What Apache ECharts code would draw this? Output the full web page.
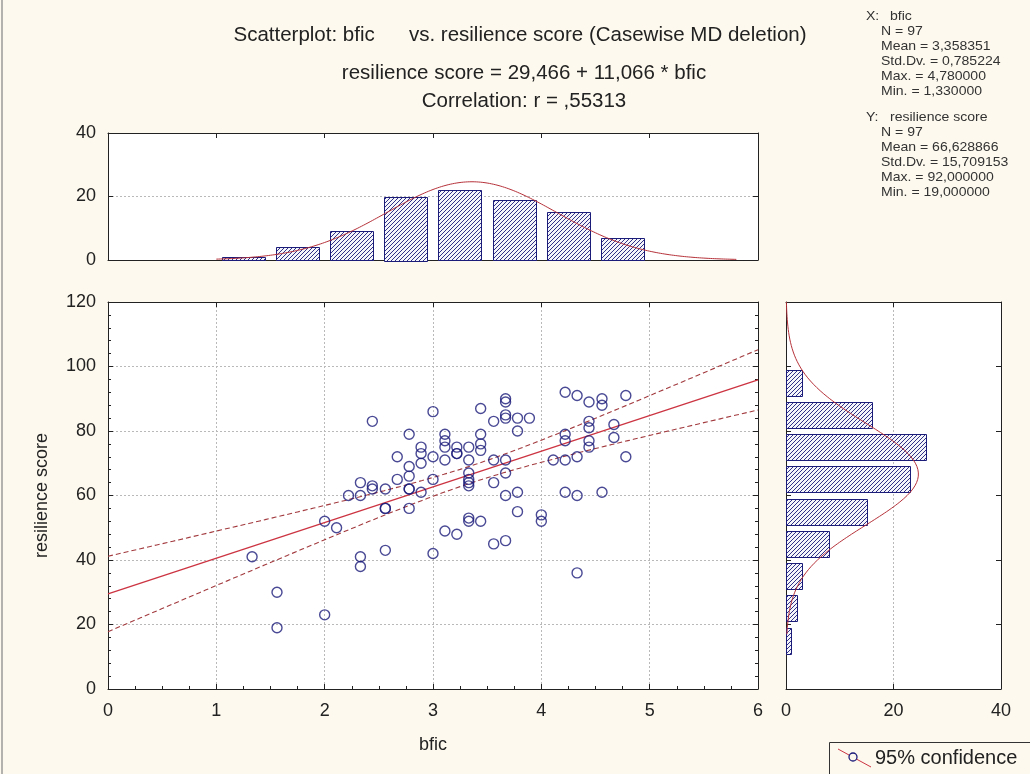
<!DOCTYPE html>
<html>
<head>
<meta charset="utf-8">
<script src="https://cdn.jsdelivr.net/npm/echarts@6/dist/echarts.min.js"></script>
<style>
  html, body { margin: 0; padding: 0; background: #fdf9ee; }
  #chart { width: 1030px; height: 774px; }
</style>
</head>
<body>
<div id="chart"></div>
<script>
// Observations (bfic, resilience score), grouped by bfic level
const bfic = [
  1.33,
  1.56, 1.56,
  2.00, 2.00,
  2.11,
  2.22,
  2.33, 2.33, 2.33, 2.33,
  2.44, 2.44, 2.44,
  2.56, 2.56, 2.56, 2.56,
  2.67, 2.67,
  2.78, 2.78, 2.78, 2.78, 2.78, 2.78,
  2.89, 2.89, 2.89, 2.89,
  3.00, 3.00, 3.00, 3.00,
  3.11, 3.11, 3.11, 3.11, 3.11,
  3.22, 3.22, 3.22, 3.22,
  3.33, 3.33, 3.33, 3.33, 3.33, 3.33, 3.33, 3.33,
  3.44, 3.44, 3.44, 3.44, 3.44,
  3.56, 3.56, 3.56, 3.56,
  3.67, 3.67, 3.67, 3.67, 3.67, 3.67, 3.67, 3.67,
  3.78, 3.78, 3.78, 3.78,
  3.89,
  4.00, 4.00,
  4.11,
  4.22, 4.22, 4.22, 4.22, 4.22,
  4.33, 4.33, 4.33, 4.33,
  4.44, 4.44, 4.44, 4.44, 4.44,
  4.56, 4.56, 4.56,
  4.67, 4.67,
  4.78, 4.78
];
const resilience = [
  41,
  30, 19,
  23, 52,
  50,
  60,
  60, 64, 41, 38,
  83, 63, 62,
  62, 56, 43, 56,
  72, 65,
  79, 69, 66, 62, 56, 62,
  75, 73, 70, 61,
  86, 72, 65, 42,
  79, 77, 75, 71, 49,
  75, 73, 48, 73,
  75, 71, 67, 65, 64, 63, 53, 52,
  87, 79, 76, 74, 52,
  83, 71, 64, 45,
  90, 89, 85, 84, 71, 67, 60, 46,
  84, 80, 61, 55,
  84,
  54, 52,
  71,
  92, 79, 77, 71, 61,
  91, 72, 60, 36,
  89, 83, 81, 77, 75,
  90, 88, 61,
  82, 78,
  91, 72
];

// Frequency tables
const bficBinStarts = [1.0, 1.5, 2.0, 2.5, 3.0, 3.5, 4.0, 4.5];
const bficBinCounts = [1, 4, 9, 20, 22, 19, 15, 7];
const bficBinWidth = 0.5;
const resBinStarts = [10, 20, 30, 40, 50, 60, 70, 80, 90];
const resBinCounts = [1, 2, 3, 8, 15, 23, 26, 16, 3];
const resBinWidth = 10;

// Fitted model and descriptive statistics
const intercept = 29.466;
const slope = 11.066;
const corrR = 0.55313;
const nObs = 97;
const bficMean = 3.358351, bficSd = 0.785224;
const resMean = 66.628866, resSd = 15.709153;
const tCrit = 1.9853;

// Text
const titleLines = [
  'Scatterplot: bfic      vs. resilience score (Casewise MD deletion)',
  'resilience score = 29,466 + 11,066 * bfic',
  'Correlation: r = ,55313'
];
const xStatsHead = ['X:', 'bfic'];
const xStatsLines = ['N = 97', 'Mean = 3,358351', 'Std.Dv. = 0,785224', 'Max. = 4,780000', 'Min. = 1,330000'];
const yStatsHead = ['Y:', 'resilience score'];
const yStatsLines = ['N = 97', 'Mean = 66,628866', 'Std.Dv. = 15,709153', 'Max. = 92,000000', 'Min. = 19,000000'];
const legendText = '95% confidence';

const FONT = "'Liberation Sans', Arial, sans-serif";
const NAVY = '#1b1b7a';
const FIT_RED = '#cc3442';
const BAND_RED = '#a23a3e';
const CURVE_RED = '#b5323a';
const AXIS_C = '#222';
const GRID_C = '#b9b9b9';
const BG = '#fdf9ee';

// Hatched fill for histogram bars
const hatch = document.createElement('canvas');
hatch.width = 4; hatch.height = 4;
(function () {
  const g = hatch.getContext('2d');
  g.fillStyle = '#f4f4fb';
  g.fillRect(0, 0, 4, 4);
  g.strokeStyle = NAVY;
  g.lineWidth = 0.9;
  g.beginPath();
  g.moveTo(-1, 5); g.lineTo(5, -1);
  g.moveTo(-1, 1); g.lineTo(1, -1);
  g.moveTo(3, 5); g.lineTo(5, 3);
  g.stroke();
})();
const hatchFill = { image: hatch, repeat: 'repeat' };

// Derived series
const scatterData = bfic.map((x, i) => [x, resilience[i]]);
const fitLine = [[0, intercept], [6, intercept + slope * 6]];

const residSd = resSd * Math.sqrt((1 - corrR * corrR) * (nObs - 1) / (nObs - 2));
const sxx = (nObs - 1) * bficSd * bficSd;
const upperBand = [], lowerBand = [];
for (let i = 0; i <= 120; i++) {
  const x = i * 0.05;
  const yhat = intercept + slope * x;
  const half = tCrit * residSd * Math.sqrt(1 / nObs + (x - bficMean) ** 2 / sxx);
  upperBand.push([x, yhat + half]);
  lowerBand.push([x, yhat - half]);
}

function normalCount(v, mean, sd, binW) {
  return nObs * binW * Math.exp(-0.5 * ((v - mean) / sd) ** 2) / (sd * Math.sqrt(2 * Math.PI));
}
const bficCurve = [];
for (let x = 1.0; x <= 5.8001; x += 0.02) bficCurve.push([x, normalCount(x, bficMean, bficSd, bficBinWidth)]);
const resCurve = [];
for (let y = 17; y <= 120.001; y += 0.5) resCurve.push([normalCount(y, resMean, resSd, resBinWidth), y]);

const bficBars = bficBinStarts.map((s, i) => [s, s + bficBinWidth, bficBinCounts[i]]);
const resBars = resBinStarts.map((s, i) => [s, s + resBinWidth, resBinCounts[i]]);

function barStyle() {
  return { fill: hatchFill, stroke: NAVY, lineWidth: 1 };
}

const tickLabel = { fontFamily: FONT, fontSize: 18, color: '#222' };

function frameAxis(extra) {
  return Object.assign({
    type: 'value',
    axisLine: { show: true, onZero: false, lineStyle: { color: AXIS_C, width: 1 } },
    axisTick: { show: true, inside: true, length: 5, lineStyle: { color: AXIS_C } },
    axisLabel: { show: false },
    splitLine: { show: false }
  }, extra);
}

function text(x, y, str, size, opts) {
  return Object.assign({
    type: 'text', x: x, y: y,
    style: Object.assign({ text: str, font: size + 'px ' + FONT, fill: '#222', verticalAlign: 'middle' }, (opts && opts.style) || {})
  }, (opts && opts.el) || {});
}

const graphics = [
  { type: 'line', shape: { x1: 2, y1: 0, x2: 2, y2: 774 }, style: { stroke: '#9a9a9a', lineWidth: 1.5 } },
  text(520, 35, titleLines[0], 20.5, { style: { align: 'center' } }),
  text(524, 73, titleLines[1], 20.5, { style: { align: 'center' } }),
  text(524, 101, titleLines[2], 20.5, { style: { align: 'center' } })
];
// Summary statistics blocks
const statsFont = 13, statsScale = 1.08, statsStep = 15;
[[xStatsHead, xStatsLines, 16], [yStatsHead, yStatsLines, 117]].forEach(([head, lines, y0]) => {
  graphics.push(text(866, y0, head[0], statsFont, { style: { fill: '#333' }, el: { scaleX: statsScale } }));
  graphics.push(text(890, y0, head[1], statsFont, { style: { fill: '#333' }, el: { scaleX: statsScale } }));
  lines.forEach((ln, i) => {
    graphics.push(text(881, y0 + statsStep * (i + 1), ln, statsFont, { style: { fill: '#333' }, el: { scaleX: statsScale } }));
  });
});
// Legend box
graphics.push(
  { type: 'rect', shape: { x: 829.5, y: 742.5, width: 210, height: 40 }, style: { fill: BG, stroke: '#333', lineWidth: 1 } },
  { type: 'line', shape: { x1: 838, y1: 749, x2: 871, y2: 767 }, style: { stroke: FIT_RED, lineWidth: 1 } },
  { type: 'circle', shape: { cx: 853, cy: 757, r: 4 }, style: { fill: BG, stroke: NAVY, lineWidth: 1.3 } },
  text(875, 758, legendText, 20)
);

const chart = echarts.init(document.getElementById('chart'), null, { renderer: 'canvas' });

chart.setOption({
  backgroundColor: BG,
  animation: false,
  grid: [
    { left: 108, top: 302, width: 650, height: 387, show: true, backgroundColor: '#fff', borderWidth: 0 },
    { left: 108, top: 133, width: 650, height: 127, show: true, backgroundColor: '#fff', borderWidth: 0 },
    { left: 786, top: 302, width: 215, height: 387, show: true, backgroundColor: '#fff', borderWidth: 0 }
  ],
  xAxis: [
    frameAxis({
      gridIndex: 0, position: 'bottom', min: 0, max: 6, interval: 1,
      axisLabel: Object.assign({ show: true, margin: 13 }, tickLabel),
      minorTick: { show: true, splitNumber: 4, length: 3, lineStyle: { color: AXIS_C } },
      splitLine: { show: true, lineStyle: { color: GRID_C, type: [2, 2] } },
      name: 'bfic', nameLocation: 'middle', nameGap: 47,
      nameTextStyle: { fontFamily: FONT, fontSize: 18, color: '#222' }
    }),
    frameAxis({ gridIndex: 0, position: 'top', min: 0, max: 6, interval: 1 }),
    frameAxis({ gridIndex: 1, position: 'bottom', min: 0, max: 6, interval: 1, axisTick: { show: false } }),
    frameAxis({ gridIndex: 1, position: 'top', min: 0, max: 6, interval: 1 }),
    frameAxis({
      gridIndex: 2, position: 'bottom', min: 0, max: 40, interval: 20,
      axisLabel: Object.assign({ show: true, margin: 13 }, tickLabel),
      splitLine: { show: true, lineStyle: { color: GRID_C, type: [2, 2] } }
    }),
    frameAxis({ gridIndex: 2, position: 'top', min: 0, max: 40, interval: 20 })
  ],
  yAxis: [
    frameAxis({
      gridIndex: 0, position: 'left', min: 0, max: 120, interval: 20,
      axisLabel: Object.assign({ show: true, margin: 12 }, tickLabel),
      minorTick: { show: true, splitNumber: 5, length: 3, lineStyle: { color: AXIS_C } },
      splitLine: { show: true, lineStyle: { color: GRID_C, type: [2, 2] } },
      name: 'resilience score', nameLocation: 'middle', nameGap: 57, nameRotate: 90,
      nameTextStyle: { fontFamily: FONT, fontSize: 18, color: '#222' }
    }),
    frameAxis({
      gridIndex: 0, position: 'right', min: 0, max: 120, interval: 20,
      minorTick: { show: true, splitNumber: 5, length: 3, lineStyle: { color: AXIS_C } }
    }),
    frameAxis({
      gridIndex: 1, position: 'left', min: 0, max: 40, interval: 20,
      axisLabel: Object.assign({ show: true, margin: 12 }, tickLabel),
      splitLine: { show: true, lineStyle: { color: GRID_C, type: [2, 2] } }
    }),
    frameAxis({ gridIndex: 1, position: 'right', min: 0, max: 40, interval: 20 }),
    frameAxis({ gridIndex: 2, position: 'left', min: 0, max: 120, interval: 20 }),
    frameAxis({ gridIndex: 2, position: 'right', min: 0, max: 120, interval: 20 })
  ],
  series: [
    {
      type: 'line', xAxisIndex: 0, yAxisIndex: 0, data: upperBand, showSymbol: false, silent: true,
      lineStyle: { color: BAND_RED, width: 1.1, type: [5, 3] }, z: 3
    },
    {
      type: 'line', xAxisIndex: 0, yAxisIndex: 0, data: lowerBand, showSymbol: false, silent: true,
      lineStyle: { color: BAND_RED, width: 1.1, type: [5, 3] }, z: 3
    },
    {
      type: 'line', xAxisIndex: 0, yAxisIndex: 0, data: fitLine, showSymbol: false, silent: true,
      lineStyle: { color: FIT_RED, width: 1.3 }, z: 3
    },
    {
      type: 'scatter', xAxisIndex: 0, yAxisIndex: 0, data: scatterData,
      symbol: 'circle', symbolSize: 10,
      itemStyle: { color: 'rgba(0,0,0,0)', borderColor: NAVY, borderWidth: 1.4 }, z: 4
    },
    {
      type: 'custom', xAxisIndex: 2, yAxisIndex: 2, data: bficBars,
      renderItem: function (params, api) {
        const gap = 0.05;
        const p0 = api.coord([api.value(0) + gap, 0]);
        const p1 = api.coord([api.value(1) - gap, api.value(2)]);
        return {
          type: 'rect',
          shape: { x: Math.round(p0[0]) + 0.5, y: Math.round(p1[1]) + 0.5, width: Math.round(p1[0] - p0[0]), height: Math.round(p0[1] - p1[1]) },
          style: barStyle()
        };
      }, z: 2
    },
    {
      type: 'line', xAxisIndex: 2, yAxisIndex: 2, data: bficCurve, showSymbol: false, silent: true,
      lineStyle: { color: CURVE_RED, width: 1 }, z: 3
    },
    {
      type: 'custom', xAxisIndex: 4, yAxisIndex: 4, data: resBars,
      renderItem: function (params, api) {
        const gap = 1;
        const p0 = api.coord([0, api.value(0) + gap]);
        const p1 = api.coord([api.value(2), api.value(1) - gap]);
        return {
          type: 'rect',
          shape: { x: Math.round(p0[0]) + 0.5, y: Math.round(p1[1]) + 0.5, width: Math.round(p1[0] - p0[0]), height: Math.round(p0[1] - p1[1]) },
          style: barStyle()
        };
      }, z: 2
    },
    {
      type: 'line', xAxisIndex: 4, yAxisIndex: 4, data: resCurve, showSymbol: false, silent: true,
      lineStyle: { color: CURVE_RED, width: 1 }, z: 3
    }
  ],
  graphic: graphics
});
</script>
</body>
</html>
